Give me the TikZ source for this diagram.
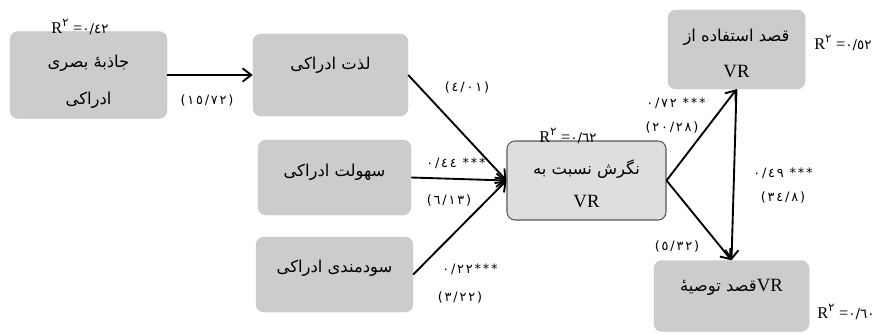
\documentclass[tikz,border=0pt]{standalone}
\usepackage{fontspec}
\setmainfont{Liberation Serif}
\newfontfamily\arabicfont[Script=Arabic]{DejaVu Sans}
\newfontfamily\numfont[Script=Arabic, LetterSpace=14]{DejaVu Sans}
\TeXXeTstate=1
\usetikzlibrary{arrows.meta, positioning, calc}

\begin{document}
\begin{tikzpicture}[x=0.03cm, y=-0.03cm,
    box/.style={rectangle, rounded corners=2.4mm, draw=black!22, fill=black!20, inner sep=0pt},
    mainbox/.style={box, draw=black!65, fill=black!13, line width=0.9pt},
    label/.style={font=\arabicfont\fontsize{14}{16}\selectfont, inner sep=0pt},
    vrlabel/.style={font=\fontsize{16}{18}\selectfont, inner sep=0pt},
    coef/.style={font=\numfont\fontsize{11}{13}\selectfont, inner sep=0pt},
    rsq/.style={font=\fontsize{14}{16}\selectfont, inner sep=0pt},
    link/.style={line width=1.6pt, -{Straight Barb[length=2.6mm, width=4mm]}}]
    % Page frame in pixels of the reference
    \useasboundingbox (0,0) rectangle (880,333);

    % Constructs on the left
    \node[box, minimum width=4.71cm, minimum height=2.61cm] (jazebe) at (88.5,75) {};
    \node[box, minimum width=4.65cm, minimum height=2.46cm] (lezzat) at (330.5,75) {};
    \node[box, minimum width=4.59cm, minimum height=2.25cm] (sohoolat) at (334.5,177.5) {};
    \node[box, minimum width=4.71cm, minimum height=2.25cm] (soodmandi) at (334.5,274.5) {};

    % Attitude in the middle
    \node[mainbox, minimum width=4.77cm, minimum height=2.37cm] (negaresh) at (586.5,180.5) {};

    % Intentions on the right
    \node[box, minimum width=4.11cm, minimum height=2.37cm] (estefade) at (736.5,49.5) {};
    \node[box, minimum width=4.65cm, minimum height=2.13cm] (towsie) at (731.5,296) {};

    % Box texts
    \node[label] (jazebeA) at ($(jazebe)+(0,-12)$) {\beginR جاذبهٔ بصری\endR};
    \node[label] (jazebeB) at ($(jazebe)+(0,25)$) {\beginR ادراکی\endR};
    \node[label] (lezzatT) at ($(lezzat)+(0,-10)$) {\beginR لذت ادراکی\endR};
    \node[label] (sohoolatT) at ($(sohoolat)+(0,-5)$) {\beginR سهولت ادراکی\endR};
    \node[label] (soodmandiT) at ($(soodmandi)+(0,-6)$) {\beginR سودمندی ادراکی\endR};
    \node[label] (negareshA) at ($(negaresh)+(0,-11)$) {\beginR نگرش نسبت به\endR};
    \node[vrlabel] (negareshB) at ($(negaresh)+(0,21)$) {VR};
    \node[label] (estefadeA) at ($(estefade)+(0,-12)$) {\beginR قصد استفاده از\endR};
    \node[vrlabel] (estefadeB) at ($(estefade)+(0,22)$) {VR};
    \node[label] (towsieT) at ($(towsie)+(0,-9)$)
        {\beginR\beginL{\rmfamily\fontsize{16}{18}\selectfont VR}\endL قصد توصیهٔ\endR};

    % Paths
    \draw[link] (jazebe.east) -- (lezzat.west);
    \draw[link] (lezzat.east) -- (negaresh.west);
    \draw[link] (sohoolat.east) -- (negaresh.west);
    \draw[link] (soodmandi.east) -- (negaresh.west);
    \draw[link] (negaresh.east) -- (estefade.south);
    \draw[link] (negaresh.east) -- (towsie.north);
    \draw[link] (estefade.south) -- (towsie.north);

    % Path coefficients
    \node[coef] (c1) at (207,100) {(١٥/٧٢)};
    \node[coef] (c2) at (467,87) {(٤/٠١)};
    \node[coef] (c3) at (456,163) {\beginR *** ٠/٤٤\endR};
    \node[coef] (c4) at (449,200) {(٦/١٣)};
    \node[coef] (c5) at (470,269) {\beginR ***٠/٢٢\endR};
    \node[coef] (c6) at (460,297) {(٣/٢٢)};
    \node[coef] (c7) at (676,103) {\beginR *** ٠/٧٢\endR};
    \node[coef] (c8) at (672,127) {(٢٠/٢٨)};
    \node[coef] (c9) at (783,173) {\beginR *** ٠/٤٩\endR};
    \node[coef] (c10) at (783,197) {(٣٤/٨)};
    \node[coef] (c11) at (677,246) {(٥/٣٢)};

    % Explained variance
    \node[rsq] (r1) at (80,27) {R\textsuperscript{\arabicfont ٢}\ ={\arabicfont\fontsize{11.5}{13}\selectfont ٠/٤٢}};
    \node[rsq] (r2) at (568,136) {R\textsuperscript{\arabicfont ٢}\ ={\arabicfont\fontsize{11.5}{13}\selectfont ٠/٦٢}};
    \node[rsq] (r3) at (843,43) {R\textsuperscript{\arabicfont ٢}\ ={\arabicfont\fontsize{11.5}{13}\selectfont ٠/٥٢}};
    \node[rsq] (r4) at (846,312) {R\textsuperscript{\arabicfont ٢}\ ={\arabicfont\fontsize{11.5}{13}\selectfont ٠/٦٠}};
\end{tikzpicture}
\end{document}
